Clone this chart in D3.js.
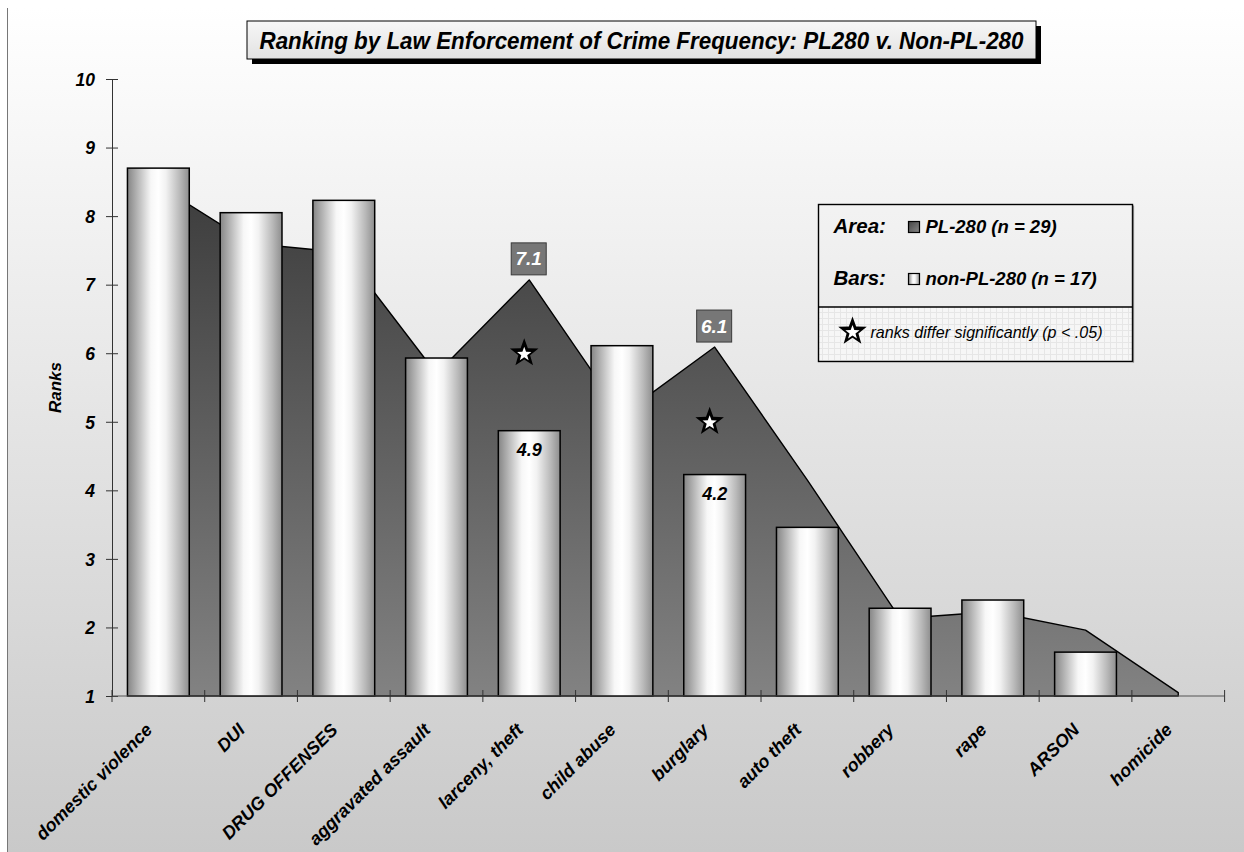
<!DOCTYPE html>
<html>
<head>
<meta charset="utf-8">
<script src="https://cdn.jsdelivr.net/npm/d3@7"></script>
<style>
  html, body { margin: 0; padding: 0; background: #ffffff; }
  svg { display: block; font-family: "Liberation Sans", Arial, sans-serif; }
</style>
</head>
<body>
<svg id="chart" width="1244" height="852"></svg>
<script>
// ---------------- data ----------------
const categories = ["domestic violence", "DUI", "DRUG OFFENSES", "aggravated assault", "larceny, theft",
  "child abuse", "burglary", "auto theft", "robbery", "rape", "ARSON", "homicide"];
// Bars: non-PL-280 ranks
const nonPL280 = [8.70, 8.05, 8.23, 5.93, 4.87, 6.11, 4.23, 3.46, 2.28, 2.40, 1.64, 1.00];
// Area: PL-280 ranks
const pl280 = [8.45, 7.60, 7.47, 5.70, 7.07, 5.10, 6.09, 4.15, 2.13, 2.23, 1.96, 1.05];
const yTicks = [1, 2, 3, 4, 5, 6, 7, 8, 9, 10];
const areaLabels = [{ cat: "larceny, theft", text: "7.1" }, { cat: "burglary", text: "6.1" }];
const barLabels = [{ cat: "larceny, theft", text: "4.9" }, { cat: "burglary", text: "4.2" }];
const stars = [{ cat: "larceny, theft", value: 6.0 }, { cat: "burglary", value: 5.0 }];
const titleText = "Ranking by Law Enforcement of Crime Frequency:  PL280 v. Non-PL-280";
const yTitle = "Ranks";
const legendArea = { head: "Area:", text: "PL-280 (n = 29)" };
const legendBars = { head: "Bars:", text: "non-PL-280 (n = 17)" };
const legendStar = "ranks differ significantly (p < .05)";

// ---------------- setup ----------------
const svg = d3.select("#chart");
const defs = svg.append("defs");
const FONT = '"Liberation Sans", Arial, sans-serif';

const bg = defs.append("linearGradient").attr("id", "bgGrad")
  .attr("x1", 0).attr("y1", 0).attr("x2", 0).attr("y2", 1);
bg.append("stop").attr("offset", 0).attr("stop-color", "#ffffff");
bg.append("stop").attr("offset", 1).attr("stop-color", "#c9c9c9");

const barG = defs.append("linearGradient").attr("id", "barGrad")
  .attr("x1", 0).attr("y1", 0).attr("x2", 1).attr("y2", 0);
[[0, "#858585"], [0.12, "#a9a9a9"], [0.38, "#f7f7f7"], [0.5, "#ffffff"], [0.62, "#f2f2f2"], [0.85, "#b8b8b8"], [1, "#8e8e8e"]]
  .forEach(([o, c]) => barG.append("stop").attr("offset", o).attr("stop-color", c));

const x = d3.scaleBand().domain(categories).range([112, 1224.6]).padding(0);
const y = d3.scaleLinear().domain([1, 10]).range([696, 79]);
const bw = x.bandwidth();
const cx = c => x(c) + bw / 2;

const areaG = defs.append("linearGradient").attr("id", "areaGrad")
  .attr("gradientUnits", "userSpaceOnUse")
  .attr("x1", 0).attr("x2", 0).attr("y1", y(8.5)).attr("y2", y(1));
areaG.append("stop").attr("offset", 0).attr("stop-color", "#3c3c3c");
areaG.append("stop").attr("offset", 1).attr("stop-color", "#828282");

const titleG = defs.append("linearGradient").attr("id", "titleGrad")
  .attr("x1", 0).attr("y1", 0).attr("x2", 0).attr("y2", 1);
titleG.append("stop").attr("offset", 0).attr("stop-color", "#f7f7f7");
titleG.append("stop").attr("offset", 1).attr("stop-color", "#e2e2e2");

const swA = defs.append("linearGradient").attr("id", "swA").attr("x1", 0).attr("y1", 0).attr("x2", 1).attr("y2", 1);
swA.append("stop").attr("offset", 0).attr("stop-color", "#444");
swA.append("stop").attr("offset", 1).attr("stop-color", "#888");

const pat = defs.append("pattern").attr("id", "gridPat").attr("patternUnits", "userSpaceOnUse")
  .attr("width", 6).attr("height", 6);
pat.append("rect").attr("width", 6).attr("height", 6).attr("fill", "#f6f6f6");
pat.append("path").attr("d", "M0,0.5H6M0.5,0V6").attr("stroke", "#e6e6e6").attr("stroke-width", 1);

// background
svg.append("rect").attr("x", 7).attr("y", 8).attr("width", 1244 - 7).attr("height", 852 - 8)
  .attr("fill", "url(#bgGrad)");
svg.append("line").attr("x1", 7.5).attr("x2", 7.5).attr("y1", 8).attr("y2", 852)
  .attr("stroke", "#777").attr("stroke-width", 1);

// ---------------- area (PL-280) ----------------
const area = d3.area()
  .x((d, i) => cx(categories[i]))
  .y0(y(1))
  .y1(d => y(d));
svg.append("path").datum(pl280).attr("d", area)
  .attr("fill", "url(#areaGrad)").attr("stroke", "#000").attr("stroke-width", 1.4)
  .attr("stroke-linejoin", "round");

// ---------------- bars (non-PL-280) ----------------
const barW = bw * 2 / 3;
svg.append("g").selectAll("rect")
  .data(categories.map((c, i) => ({ c, v: nonPL280[i] })).filter(d => d.v > 1))
  .join("rect")
  .attr("x", d => cx(d.c) - barW / 2)
  .attr("width", barW)
  .attr("y", d => y(d.v))
  .attr("height", d => y(1) - y(d.v))
  .attr("fill", "url(#barGrad)")
  .attr("stroke", "#000").attr("stroke-width", 1.5);

// ---------------- axes ----------------
const yAxis = svg.append("g").attr("transform", "translate(112,0)")
  .call(d3.axisLeft(y).tickValues(yTicks).tickSize(6).tickPadding(11).tickFormat(d3.format("d")));
yAxis.select(".domain").attr("stroke", "#333");
yAxis.selectAll(".tick line").attr("x2", 6).attr("x1", -6).attr("stroke", "#333");
yAxis.selectAll(".tick text").attr("font-family", FONT).attr("font-size", 17.5)
  .attr("font-weight", "bold").attr("font-style", "italic").attr("fill", "#000")
  .attr("x", -17).attr("dy", "0.36em");

const xAxisG = svg.append("g").attr("transform", `translate(0,${y(1)})`);
xAxisG.append("line").attr("x1", 112).attr("x2", 1224.6).attr("y1", 0).attr("y2", 0)
  .attr("stroke", "#555").attr("stroke-width", 1);
const boundaries = categories.map(c => x(c)).concat([x(categories[categories.length - 1]) + bw]);
xAxisG.selectAll("line.tk").data(boundaries).join("line").attr("class", "tk")
  .attr("x1", d => d).attr("x2", d => d).attr("y1", -6).attr("y2", 6)
  .attr("stroke", "#333").attr("stroke-width", 1);

svg.append("g").selectAll("text").data(categories).join("text")
  .attr("transform", d => `translate(${cx(d) - 5},${y(1) + 35}) rotate(-45)`)
  .attr("text-anchor", "end")
  .attr("font-family", FONT).attr("font-size", 18).attr("font-weight", "bold").attr("font-style", "italic")
  .attr("fill", "#000")
  .text(d => d);

svg.append("text")
  .attr("transform", `translate(61,${(y(1) + y(10)) / 2}) rotate(-90)`)
  .attr("text-anchor", "middle")
  .attr("font-family", FONT).attr("font-size", 17).attr("font-weight", "bold").attr("font-style", "italic")
  .text(yTitle);

// ---------------- stars ----------------
function starPath(cxp, cyp, R, r) {
  const pts = [];
  for (let k = 0; k < 10; k++) {
    const a = -Math.PI / 2 + k * Math.PI / 5;
    const rad = k % 2 === 0 ? R : r;
    pts.push([cxp + rad * Math.cos(a), cyp + rad * Math.sin(a)]);
  }
  return "M" + pts.map(p => p.join(",")).join("L") + "Z";
}
function drawStar(g, sx, sy) {
  g.append("path").attr("d", starPath(sx, sy, 15, 6.2)).attr("fill", "#000");
  g.append("path").attr("d", starPath(sx, sy + 1, 7.5, 3.1)).attr("fill", "#fff");
}
const starG = svg.append("g");
stars.forEach(s => drawStar(starG, cx(s.cat) - 5, y(s.value)));

// ---------------- value labels ----------------
areaLabels.forEach(l => {
  const i = categories.indexOf(l.cat);
  const px = cx(l.cat), py = y(pl280[i]);
  svg.append("rect").attr("x", px - 18).attr("y", py - 37).attr("width", 35).attr("height", 32)
    .attr("fill", "#777").attr("stroke", "#3a3a3a").attr("stroke-width", 1);
  svg.append("text").attr("x", px - 0.5).attr("y", py - 14.5).attr("text-anchor", "middle")
    .attr("font-family", FONT).attr("font-size", 19).attr("font-weight", "bold").attr("font-style", "italic")
    .attr("fill", "#fff").text(l.text);
});
barLabels.forEach(l => {
  const i = categories.indexOf(l.cat);
  svg.append("text").attr("x", cx(l.cat)).attr("y", y(nonPL280[i]) + 25).attr("text-anchor", "middle")
    .attr("font-family", FONT).attr("font-size", 18).attr("font-weight", "bold").attr("font-style", "italic")
    .attr("fill", "#000").text(l.text);
});

// ---------------- title ----------------
const tb = { x: 247, y: 21, w: 789, h: 38 };
svg.append("rect").attr("x", tb.x + 5).attr("y", tb.y + 5).attr("width", tb.w).attr("height", tb.h).attr("fill", "#000");
svg.append("rect").attr("x", tb.x).attr("y", tb.y).attr("width", tb.w).attr("height", tb.h)
  .attr("fill", "url(#titleGrad)").attr("stroke", "#000").attr("stroke-width", 1);
svg.append("text").attr("x", tb.x + tb.w / 2).attr("y", tb.y + 28).attr("text-anchor", "middle")
  .attr("font-family", FONT).attr("font-size", 24).attr("font-weight", "bold").attr("font-style", "italic")
  .attr("textLength", 764).attr("lengthAdjust", "spacingAndGlyphs")
  .attr("fill", "#000").text(titleText);

// ---------------- legend ----------------
const lg = { x: 818.5, y: 204.5, w: 314, h: 157, div: 102.5 };
svg.append("rect").attr("x", lg.x).attr("y", lg.y + lg.div).attr("width", lg.w).attr("height", lg.h - lg.div)
  .attr("fill", "url(#gridPat)");
svg.append("rect").attr("x", lg.x).attr("y", lg.y).attr("width", lg.w).attr("height", lg.h)
  .attr("fill", "none").attr("stroke", "#000").attr("stroke-width", 1.4);
svg.append("line").attr("x1", lg.x + lg.w + 1).attr("x2", lg.x + lg.w + 1).attr("y1", lg.y + 1).attr("y2", lg.y + lg.h + 1)
  .attr("stroke", "#777").attr("stroke-width", 1.2);
svg.append("line").attr("x1", lg.x).attr("x2", lg.x + lg.w).attr("y1", lg.y + lg.div).attr("y2", lg.y + lg.div)
  .attr("stroke", "#000").attr("stroke-width", 1.4);

function legendRow(item, baseY, swFill) {
  svg.append("text").attr("x", lg.x + 15).attr("y", baseY)
    .attr("font-family", FONT).attr("font-size", 20.5).attr("font-weight", "bold").attr("font-style", "italic")
    .text(item.head);
  svg.append("rect").attr("x", lg.x + 90).attr("y", baseY - 11.5).attr("width", 11).attr("height", 11)
    .attr("fill", swFill).attr("stroke", "#000").attr("stroke-width", 1.2);
  svg.append("text").attr("x", lg.x + 107).attr("y", baseY)
    .attr("font-family", FONT).attr("font-size", 18.5).attr("font-weight", "bold").attr("font-style", "italic")
    .text(item.text);
}
legendRow(legendArea, 233, "url(#swA)");
legendRow(legendBars, 285, "url(#barGrad)");

const lsG = svg.append("g");
drawStar(lsG, lg.x + 34, lg.y + 127);
svg.append("text").attr("x", lg.x + 52).attr("y", lg.y + 133)
  .attr("font-family", FONT).attr("font-size", 16.5).attr("font-style", "italic")
  .attr("textLength", 232).attr("lengthAdjust", "spacingAndGlyphs")
  .text(legendStar);
</script>
</body>
</html>
